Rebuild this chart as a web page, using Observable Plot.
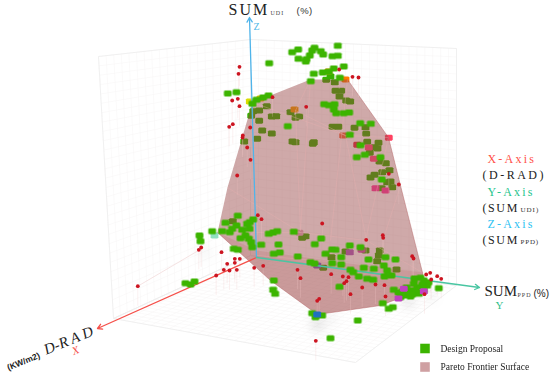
<!DOCTYPE html>
<html><head><meta charset="utf-8">
<script src="https://cdn.jsdelivr.net/npm/d3@7"></script>
<script src="https://cdn.jsdelivr.net/npm/@observablehq/plot@0.6"></script>
<style>html,body{margin:0;padding:0;background:#fff}svg{display:block}</style>
</head><body><div id="chart"></div>
<script>
// Projected positions (3D view, so screen units)
const hullOutline = [[252,102],[310,79],[347,79],[388,137],[400,185],[422,272],[424,288],[380,305],[317,314],[270,280],[217,232],[227,187]];
const hullLowerFacet = [[217,232],[256,250],[340,262],[422,272],[424,288],[380,305],[317,314],[270,280]];
const hullFacetLines = [[252,102,256,255],[310,79,300,230],[347,79,330,240],[388,137,365,240],[400,185,384,235],[252,102,345,135],[310,79,295,110],[295,110,345,135],[345,135,388,137],[227,187,300,232],[300,232,366,240],[366,240,422,272],[295,110,300,230],[345,135,366,240],[217,232,300,232],[256,255,340,262]];
const hullEdges = [[347,79,388,137],[388,137,400,185],[400,185,422,272],[422,272,424,288],[424,288,380,305],[380,305,317,314],[317,314,270,280],[270,280,217,232]];

const proposalsBehind = [[325.7,79.3],[330,76],[334.3,81.7],[335,90.3],[340.7,90.3],[339,96],[345.7,100],[349.7,101],[266.3,105.7],[258.7,110],[252.7,110.7],[250.7,115.3],[258.7,120.3],[271.3,116],[275.7,115.7],[290,111.7],[295,117.3],[298.7,116],[261.7,130],[271.3,133],[256.7,138.3],[243.7,141],[292,141],[295,141.7],[313.3,141.7],[312.3,143.3],[332,126.3],[338,126.3],[354,127.3],[365,126.7],[365.7,133.3],[366.7,141.3],[378,142.3],[374,146.7],[377,148],[369.3,152.3],[379,161],[385.3,162.7],[381.7,171.7],[389,169.7],[370,177],[374,174.3],[386.7,181.7],[390,181],[381,187.7],[391.7,186.7],[232.3,220.7],[301.7,237.3],[305,235.7],[331,256.7],[322.7,267.3],[345,251],[365,250],[378.3,255],[376.7,260.7],[379.3,250],[396,269]];

const proposalsFront = [[291.7,51.7],[297.7,49],[314,47.3],[311.7,50],[309.3,55],[320.3,50.7],[322.7,54],[298,58.3],[305.3,61],[306,58.7],[337.3,45.3],[332,55.7],[337.3,55.3],[343.3,66],[268.7,62.7],[313.3,73.3],[322.3,72],[333.3,68],[328.3,71.3],[310.3,80.7],[339.3,77.3],[227.3,93],[236,91.7],[268,95],[262.7,97],[256,99.3],[252,103.3],[334,103.7],[323.7,103.7],[328.3,104.7],[333.3,109],[335.7,112.7],[343.3,112.7],[348.7,112],[287.3,125.7],[349.3,134.3],[359.7,122.7],[370.3,123.3],[360,144.7],[364.3,154.3],[356.3,156.7],[380,156.7],[381.3,179],
[199,235],[200,240.7],[211.7,230.7],[221.7,230.7],[229.3,231.7],[225,222.3],[237.3,215.3],[236,225],[231.7,228.3],[241.7,229.3],[249.3,221.7],[252.7,219],[246.7,223.3],[249,228.3],[240,237.7],[245,235],[248.3,238.3],[250.7,241.7],[251.7,246.7],[233.3,248.3],[237.3,249.3],[260.7,244.3],[268.3,233.3],[272.7,232],[276.7,230.7],[278,244],[273.3,253.3],[279.3,252],[293.3,231.3],[297.3,256],[314.3,243.7],[320.7,238],[310,261.7],[314,263],[325,253.3],[331.7,249],[335,249.3],[340.7,256.7],[331.7,262.7],[340.7,264],[349.3,245],[350,269.3],[352.7,271.7],[358.3,276],[363.3,267.3],[360,246.7],[368,259],[373.3,268.3],[366.7,278.3],[372.7,279.3],[385,256.7],[383.3,265],[395,259],[386.7,270],[384,276],[391,275],[339,286.3],[273.3,280],[272.7,289.3],[274.7,293.3],[185,282.7],[190,284],[194,281],[311.7,312.7],[315,316.7],[321.7,315],[357.3,320],[330,337.7],[382.3,302.7],[388.3,308.3],[392.3,306.7],[393.3,289.3],[400,296.7],[405,295],[402,291],[411.7,290],[416.7,286.7],[420,277.3],[413.3,283.3],[423.3,280],[426.7,285],[418.3,293.3],[410,296],[408,292],[438.3,287.7],[423.3,290],[428,282],[414,278],[422,284],[406,287],[398,292],[417,291],[412,294]];

const highlightBehind = [[249.3,101,"#d8dc00"],[260,98,"#e8c000"],[294,109,"#f0a000"],[328,71,"#f09000"],[345,79,"#ff7a00"],[342.7,135,"#f06a40"],[388.3,137.3,"#ff4060"],[356.7,144.3,"#e03040"],[368.3,147,"#ff5080"],[373.3,158.3,"#ff5080"],[375,187.7,"#ff40a0"],[385,190,"#ff40a0"],[349.3,251.7,"#b060c0"],[361,249.3,"#d050b0"],[316.7,265,"#7060d0"],[299,232.3,"#e0b0c0"],[214,235,"#90e0c0"]];
const highlightFront = [[316.7,314,"#2070c0"],[403.3,288.3,"#c040c0"],[423.3,290.7,"#c040c0"],[398,298,"#c040c0"]];

const solutionDots = [[239,66.3],[238,73.3],[231.7,100],[237.3,98.3],[239,105.7],[272,96.7],[305.7,106.3],[338.7,69],[352,76.3],[358,77],[228.7,126.3],[232.3,123.7],[249.7,127],[242.3,135],[242,137],[246.7,147],[250,159.3],[236.7,175],[398.3,184],[388.3,173.3],
[137.3,285.7],[198.3,249.3],[200.7,247],[221,251.7],[226.7,263.3],[234.3,258.3],[234.3,262.3],[239.3,258.3],[223.3,269.3],[229,270],[236.3,269.3],[215.7,275],[253.7,267.3],[262.7,265.3],[257.3,214.7],[261,218.7],[321.7,223],[297,269.3],[300,277.7],[330.7,273.7],[342.3,276],[348,276.7],[346,280.7],[343.7,282.7],[361.7,287],[350,293.7],[375,284],[384,284.7],[385,296],[365.7,239.3],[382.3,234.7],[382.7,237.3],[411.7,255.7],[413,258],[425.7,274],[429.7,272.3],[436.7,275.7],[430.7,279],[440.7,278.3],[424,293.7],[316.7,300.3],[318.7,298.3],[315.3,340.3]];

const floorShadows = [[317,324,13,.55],[330,318,8,.3],[408,301,12,.45],[430,295,9,.3],[204,252,12,.2],[262,262,10,.18]];
const leftFloorStreak = [[137.3,285.7,198,250]];

// Box: wall and floor corners
const wallLeft = [[98,56],[250,39],[250,255],[113,318]];
const wallRight = [[250,39],[456,48],[456,285],[250,255]];
const floorBox = [[113,318],[250,255],[456,285],[355,362]];

const axisArrows = [
  {x1:256,y1:257,x2:249,y2:17,c:"#4fb4ea"},
  {x1:256,y1:257,x2:97,y2:328,c:"#f5504a"},
  {x1:256,y1:257,x2:479,y2:287,c:"#49c6a2"}
];

const labels = [
  {t:"SUM",x:228,y:14,s:16,c:"#222",a:"start",ls:"2px"},
  {t:"UDI",x:270,y:14,s:6,c:"#444",a:"start",ls:"1px"},
  {t:"(%)",x:296,y:13,s:9.5,c:"#333",a:"start",f:"'Liberation Sans',sans-serif",ls:".5px"},
  {t:"Z",x:256,y:29,s:10,c:"#4fb8e8",a:"middle"},
  {t:"SUM",x:484,y:295,s:15,c:"#222",a:"start"},
  {t:"PPD",x:517,y:296,s:6,c:"#444",a:"start",ls:"1px"},
  {t:"(%)",x:533,y:296,s:10,c:"#222",a:"start",f:"'Liberation Sans',sans-serif"},
  {t:"Y",x:499,y:308,s:11,c:"#2fc08a",a:"middle"},
  {t:"X-Axis",x:487,y:162,s:12,c:"#ff5048",a:"start",ls:"2.2px"},
  {t:"(D-RAD)",x:482,y:178,s:12,c:"#222",a:"start",ls:"2.5px"},
  {t:"Y-Axis",x:487,y:195,s:12,c:"#25c48c",a:"start",ls:"2.2px"},
  {t:"(SUM",x:482,y:211,s:12,c:"#222",a:"start",ls:"1.6px"},
  {t:"UDI)",x:520,y:211,s:7,c:"#333",a:"start",ls:"1px"},
  {t:"Z-Axis",x:487,y:227,s:12,c:"#2cc2f2",a:"start",ls:"2.2px"},
  {t:"(SUM",x:482,y:243,s:12,c:"#222",a:"start",ls:"1.6px"},
  {t:"PPD)",x:520,y:243,s:7,c:"#333",a:"start",ls:".8px"},
  {t:"Design Proposal",x:440,y:351,s:9.5,c:"#222",a:"start"},
  {t:"Pareto Frontier Surface",x:440,y:369,s:9.5,c:"#222",a:"start"}
];
const rotatedLabels = [
  {t:"(KW/m2)",x:23,y:361,s:8.5,c:"#222",f:"'Liberation Sans'",w:"bold",st:"normal"},
  {t:"D-R A D",x:68,y:340,s:15,c:"#222",f:"'Liberation Serif'",w:"normal",st:"italic"},
  {t:"X",x:75,y:350,s:11,c:"#f5504a",f:"'Liberation Serif'",w:"normal",st:"italic"}
];
const legendSwatches = [[424.5,348,"#3cb400"],[424.5,366.5,"#cfa0a2"]];

// Grid lines on the box faces, spanned between each face's corners
const lerp = (a,b,t)=>[a[0]+(b[0]-a[0])*t,a[1]+(b[1]-a[1])*t];
function faceGrid(q,nu,nv){
  const out=[];
  for(let i=0;i<=nu;i++){const t=i/nu,a=lerp(q[0],q[1],t),b=lerp(q[3],q[2],t);out.push([a[0],a[1],b[0],b[1]]);}
  for(let i=0;i<=nv;i++){const t=i/nv,a=lerp(q[0],q[3],t),b=lerp(q[1],q[2],t);out.push([a[0],a[1],b[0],b[1]]);}
  return out;
}
const grid=[...faceGrid(wallLeft,20,28),...faceGrid(wallRight,26,28),...faceGrid(floorBox,26,26)];
const frame=[wallLeft,wallRight,floorBox].flatMap(q=>q.map((p,i)=>[p[0],p[1],q[(i+1)%4][0],q[(i+1)%4][1]]));

const cube={draw(ctx,size){const w=3.9,h=3;ctx.moveTo(-w+1,-h);ctx.lineTo(w-1,-h);ctx.lineTo(w,-h+1);ctx.lineTo(w,h-1);ctx.lineTo(w-1,h);ctx.lineTo(-w+1,h);ctx.lineTo(-w,h-1);ctx.lineTo(-w,-h+1);ctx.closePath();}};
const X=d=>d[0],Y=d=>d[1];
const link=(data,o)=>Plot.link(data,{x1:d=>d[0],y1:d=>d[1],x2:d=>d[2],y2:d=>d[3],...o});
const spaced=ls=>ls?{render(i,s,v,d,c,next){const g=next(i,s,v,d,c);g.style.letterSpacing=ls;return g;}}:{};

const chart=Plot.plot({
  width:550,height:376,margin:0,
  x:{domain:[0,550],range:[0,550],axis:null},
  y:{domain:[0,376],range:[0,376],axis:null},
  style:{background:"#fff",fontFamily:"'Liberation Serif',serif"},
  marks:[
    link(grid,{stroke:"#f6f4f4",strokeWidth:.5}),
    link(frame,{stroke:"#eeeeee",strokeWidth:.8}),
    Plot.dot(floorShadows,{x:X,y:Y,r:d=>d[2],fill:"#555",fillOpacity:d=>d[3],stroke:"none",imageFilter:"blur(6px)"}),
    link(leftFloorStreak,{stroke:"#f3dcdc",strokeWidth:.8}),
    Plot.dot(proposalsBehind,{x:X,y:Y,symbol:cube,r:3,fill:"#38b000",stroke:"none",imageFilter:"blur(.3px)"}),
    Plot.dot(highlightBehind,{x:X,y:Y,symbol:cube,r:3,fill:d=>d[2],stroke:"none",imageFilter:"blur(.3px)"}),
    Plot.line(hullOutline,{x:X,y:Y,curve:"linear-closed",fill:"#944040",fillOpacity:.45,stroke:"none"}),
    Plot.line(hullLowerFacet,{x:X,y:Y,curve:"linear-closed",fill:"#b04a4a",fillOpacity:.15,stroke:"none"}),
    link(hullFacetLines,{stroke:"#e8aeb0",strokeWidth:.5,strokeOpacity:.7}),
    link(hullEdges,{stroke:"#b05a5c",strokeWidth:.7,strokeOpacity:.6}),
    Plot.ruleX(solutionDots,{x:X,y1:Y,y2:d=>d[1]+20,stroke:"#f2c8c8",strokeWidth:.5,strokeOpacity:.5}),
    Plot.arrow(axisArrows,{x1:"x1",y1:"y1",x2:"x2",y2:"y2",stroke:"c",bend:0,strokeWidth:1.3,headLength:6,inset:0}),
    Plot.dot(proposalsFront,{x:X,y:Y,symbol:cube,r:3,fill:"#3cb400",stroke:"none",imageFilter:"blur(.3px)"}),
    Plot.dot(highlightFront,{x:X,y:Y,symbol:cube,r:3,fill:d=>d[2],stroke:"none",imageFilter:"blur(.3px)"}),
    Plot.dot(solutionDots,{x:X,y:Y,r:1.9,fill:"#cc1420",stroke:"none"}),
    Plot.dot(legendSwatches,{x:X,y:Y,symbol:"square",r:5.4,fill:d=>d[2],stroke:"none"}),
    ...labels.map(l=>Plot.text([l],{x:"x",y:"y",text:"t",fontSize:l.s,fill:l.c,textAnchor:l.a,lineAnchor:"bottom",fontFamily:l.f||"'Liberation Serif',serif",...spaced(l.ls)})),
    ...rotatedLabels.map(l=>Plot.text([l],{x:"x",y:"y",text:"t",fontSize:l.s,fill:l.c,rotate:-22,textAnchor:"middle",fontStyle:l.st,fontWeight:l.w,fontFamily:l.f}))
  ]
});
document.getElementById("chart").append(chart);
</script></body></html>
